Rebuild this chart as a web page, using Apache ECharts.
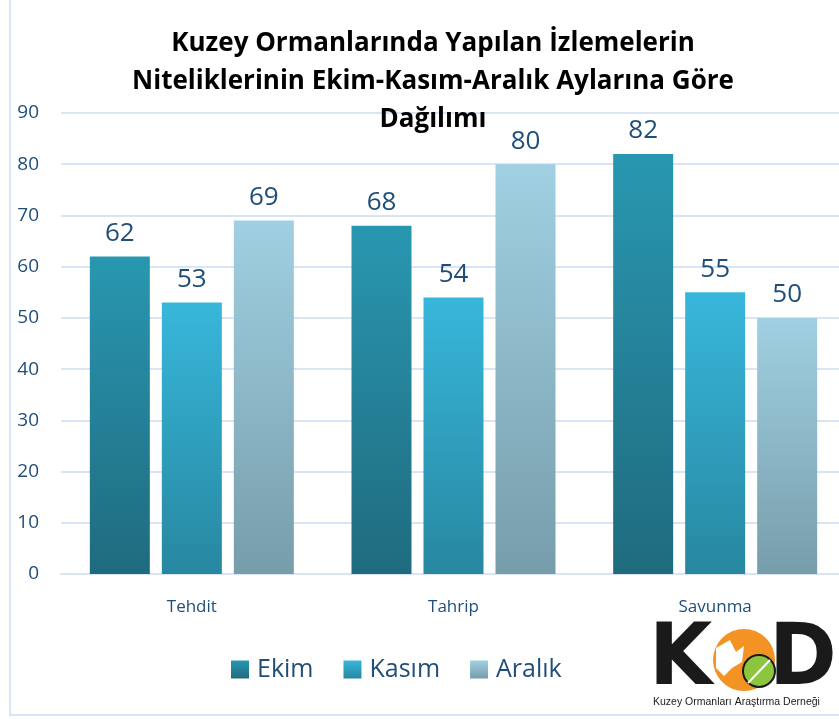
<!DOCTYPE html>
<html>
<head>
    <meta charset="UTF-8"/>
    <script type="text/javascript" src="https://cdn.jsdelivr.net/npm/echarts@6/dist/echarts.min.js"></script>
    <style>
        html, body { margin: 0; padding: 0; background: #fff; }
        #main { width: 839px; height: 719px; }
    </style>
</head>
<body>
<div id="main"></div>
<script type="text/javascript">
    // kategoriler ve aylara göre değerler
    var categories = ['Tehdit', 'Tahrip', 'Savunma'];
    var ekim = [62, 68, 82];
    var kasim = [53, 54, 55];
    var aralik = [69, 80, 50];
    var yTicks = [0, 10, 20, 30, 40, 50, 60, 70, 80, 90];

    var txtColor = '#1f4e79';

    function grad(top, bottom) {
        return new echarts.graphic.LinearGradient(0, 0, 0, 1, [
            {offset: 0, color: top},
            {offset: 1, color: bottom}
        ]);
    }

    var labelOpt = {
        show: true,
        position: 'top',
        distance: 10,
        color: txtColor,
        fontSize: 26,
        fontFamily: 'Open Sans'
    };

    var myChart = echarts.init(document.getElementById('main'));
    var option = {
        animation: false,
        title: {
            text: 'Kuzey Ormanlarında Yapılan İzlemelerin\nNiteliklerinin Ekim-Kasım-Aralık Aylarına Göre\nDağılımı',
            left: 428,
            textAlign: 'center',
            top: 20,
            textStyle: {
                fontSize: 26,
                fontWeight: 'bold',
                color: '#000',
                lineHeight: 38,
                fontFamily: 'Open Sans'
            }
        },
        legend: {
            data: ['Ekim', 'Kasım', 'Aralık'],
            left: 226,
            top: 652,
            itemWidth: 18,
            itemHeight: 18,
            itemGap: 30,
            icon: 'rect',
            textStyle: {
                fontSize: 25,
                color: txtColor,
                fontFamily: 'Open Sans',
                padding: [0, 0, 0, 3]
            }
        },
        grid: {
            left: 61,
            width: 785,
            top: 113,
            bottom: 145,
            containLabel: false,
            outerBoundsMode: 'none'
        },
        xAxis: {
            type: 'category',
            data: categories,
            axisLine: {show: true, lineStyle: {color: '#d9e4f5', width: 2}},
            axisTick: {show: false},
            axisLabel: {
                color: txtColor,
                fontSize: 17,
                margin: 25,
                fontFamily: 'Open Sans'
            }
        },
        yAxis: {
            type: 'value',
            min: 0,
            max: 90,
            interval: 10,
            axisLine: {show: false},
            axisTick: {show: false},
            splitLine: {lineStyle: {color: '#d9e4f5', width: 2}},
            axisLabel: {
                color: txtColor,
                fontSize: 19,
                margin: 22,
                fontFamily: 'Open Sans',
                formatter: function (v) { return yTicks.indexOf(v) >= 0 ? String(v) : ''; }
            }
        },
        series: [
            {
                name: 'Ekim', type: 'bar', data: ekim,
                barWidth: 60, barGap: '20%',
                itemStyle: {color: grad('#2997b1', '#1f6b7e')},
                label: labelOpt
            },
            {
                name: 'Kasım', type: 'bar', data: kasim,
                barWidth: 60,
                itemStyle: {color: grad('#38b7db', '#2787a0')},
                label: labelOpt
            },
            {
                name: 'Aralık', type: 'bar', data: aralik,
                barWidth: 60,
                itemStyle: {color: grad('#a0d0e2', '#779dab')},
                label: labelOpt
            }
        ],
        graphic: [
            {
                type: 'rect', silent: true, z: -1,
                shape: {x: 10, y: -5, width: 840, height: 720},
                style: {fill: 'none', stroke: '#d9e4f5', lineWidth: 2}
            },
            // logo
            {
                type: 'text', x: 649, y: 662, scaleX: 0.95,
                style: {text: 'K', fontSize: 86, fontWeight: 'bold', fill: '#1a1a1a',
                    fontFamily: 'DejaVu Sans', textVerticalAlign: 'middle'}
            },
            {
                type: 'circle', shape: {cx: 744, cy: 660, r: 31},
                style: {fill: '#f39323'}
            },
            {
                type: 'polygon',
                shape: {points: [[716, 648], [730, 640], [736, 652], [744, 646], [742, 662], [732, 668], [724, 676], [716, 668]]},
                style: {fill: '#ffffff'}
            },
            {
                type: 'circle', shape: {cx: 759, cy: 671, r: 16},
                style: {fill: '#8cc63f', stroke: '#1a1a1a', lineWidth: 2}
            },
            {
                type: 'polyline', shape: {points: [[748, 683], [770, 660]]},
                style: {stroke: '#ffffff', lineWidth: 2}
            },
            {
                type: 'text', x: 769, y: 662, scaleX: 0.95,
                style: {text: 'D', fontSize: 86, fontWeight: 'bold', fill: '#1a1a1a',
                    fontFamily: 'DejaVu Sans', textVerticalAlign: 'middle'}
            },
            {
                type: 'text', left: 653, top: 697,
                style: {text: 'Kuzey Ormanları Araştırma Derneği', fontSize: 10.5, fill: '#1a1a1a', fontFamily: 'Liberation Sans'}
            }
        ]
    };
    myChart.setOption(option);
</script>
</body>
</html>
